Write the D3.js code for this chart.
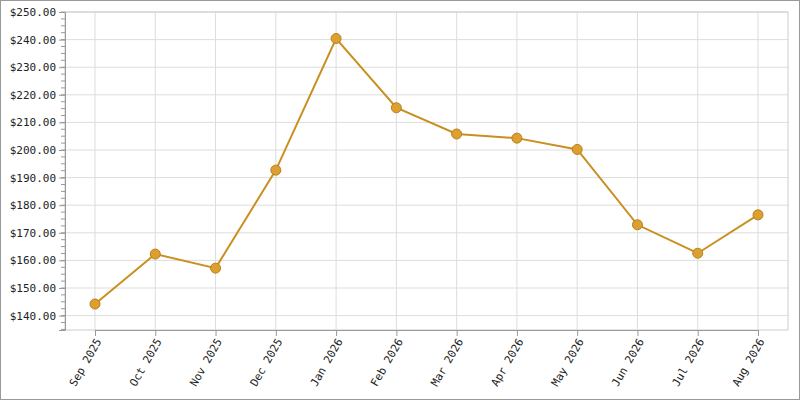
<!DOCTYPE html><html><head><script src="https://cdn.jsdelivr.net/npm/d3@7"></script>
<style>body{margin:0}svg{display:block}</style></head><body><svg width="800" height="400"></svg>
<script>
const categories=["Sep 2025","Oct 2025","Nov 2025","Dec 2025","Jan 2026","Feb 2026","Mar 2026","Apr 2026","May 2026","Jun 2026","Jul 2026","Aug 2026"];
const prices=[144.2,162.3,157.2,192.7,240.4,215.3,205.8,204.3,200.2,172.9,162.6,176.5];
const yTicks=[140,150,160,170,180,190,200,210,220,230,240,250];
const svg=d3.select("svg");
svg.append("rect").attr("x",0.5).attr("y",0.5).attr("width",799).attr("height",399).attr("fill","#fff").attr("stroke","#999");
const L=65,R=788,T=12,B=330;
const x=d3.scalePoint().domain(categories).range([95,758]);
const y=d3.scaleLinear().domain([250-(B-T)/2.76*10/1,250]).range([B,T]);
y.domain([250-(B-T)*10/27.6,250]);
const g=svg.append("g");
yTicks.forEach(v=>g.append("line").attr("x1",L).attr("x2",R).attr("y1",y(v)).attr("y2",y(v)).attr("stroke","#ddd"));
categories.forEach(c=>g.append("line").attr("x1",x(c)).attr("x2",x(c)).attr("y1",T).attr("y2",B).attr("stroke","#ddd"));
g.append("rect").attr("x",L).attr("y",T).attr("width",R-L).attr("height",B-T).attr("fill","none").attr("stroke","#ccc");
const minor=d3.range(135,250.1,2.5).filter(v=>y(v)<=B);
minor.forEach(v=>g.append("line").attr("x1",L-4).attr("x2",L).attr("y1",y(v)).attr("y2",y(v)).attr("stroke","#999"));
const ya=svg.append("g").attr("transform",`translate(${L},0)`).call(d3.axisLeft(y).tickValues(yTicks).tickFormat(d=>"$"+d.toFixed(2)).tickSize(6));
const xa=svg.append("g").attr("transform",`translate(0,${B})`).call(d3.axisBottom(x).tickSize(6));
xa.selectAll("text").attr("transform","rotate(-60)").attr("text-anchor","end").attr("dx","-0.6em").attr("dy","0.2em");
[ya,xa].forEach(a=>{a.selectAll("path,line").attr("stroke","#999");a.selectAll("text").attr("font-family","DejaVu Sans Mono").attr("font-size",11).attr("fill","#222");});
const line=d3.line().x((d,i)=>x(categories[i])).y(d=>y(d));
svg.append("path").datum(prices).attr("d",line).attr("fill","none").attr("stroke","#c98f1f").attr("stroke-width",2);
svg.selectAll("circle.p").data(prices).enter().append("circle").attr("cx",(d,i)=>x(categories[i])).attr("cy",d=>y(d)).attr("r",5).attr("fill","#dda030").attr("stroke","#b8801c");
</script></body></html>
